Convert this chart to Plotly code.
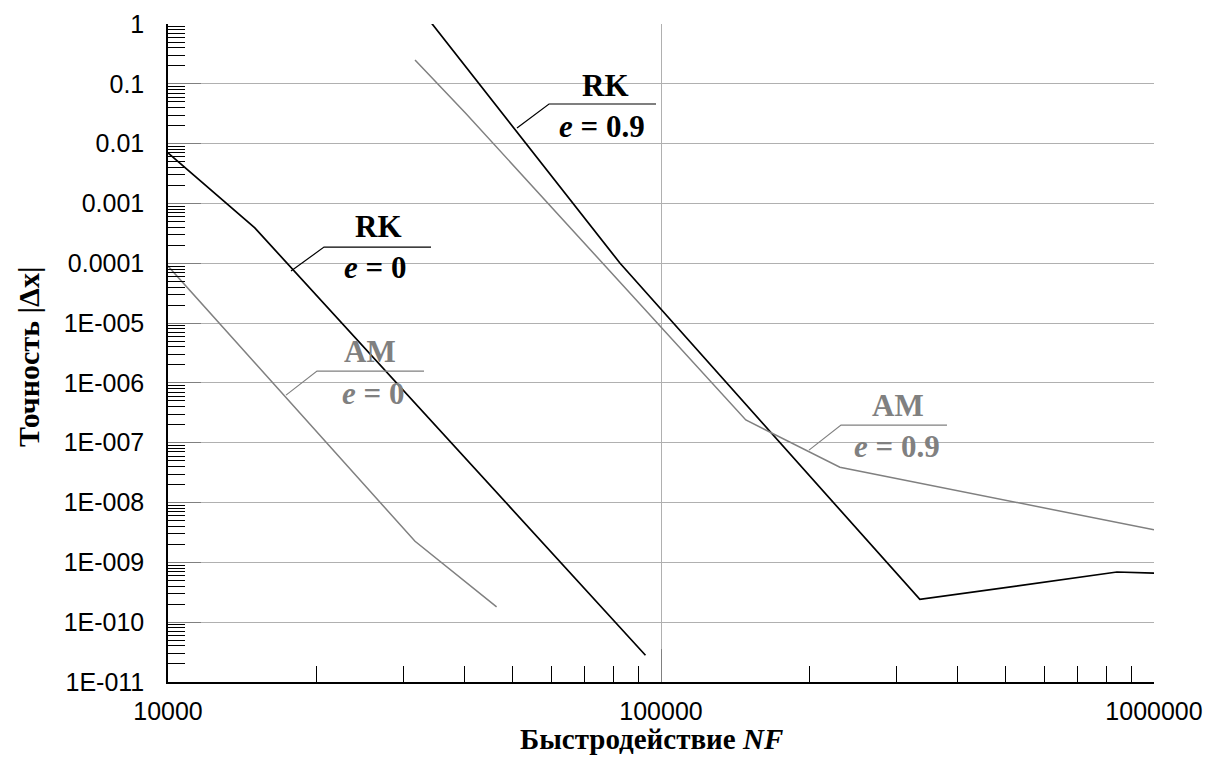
import plotly.graph_objects as go
import numpy as np

# ---------------- data ----------------
rk_e0_nf = [10000, 15000, 93000]
rk_e0_dx = [7.0e-3, 3.9e-4, 2.8e-11]

am_e0_nf = [10000, 31700, 46400]
am_e0_dx = [9.0e-5, 2.25e-9, 1.8e-10]

rk_e09_nf = [31600, 82600, 335000, 841000, 1000000]
rk_e09_dx = [2.4, 1.0e-4, 2.4e-10, 6.9e-10, 6.6e-10]

am_e09_nf = [31700, 40200, 148600, 230600, 1000000]
am_e09_dx = [0.25, 0.032, 2.4e-7, 3.9e-8, 3.5e-9]

x_tick_vals = [1e4, 1e5, 1e6]
x_tick_text = ["10000", "100000", "1000000"]
y_tick_vals = [1, 0.1, 0.01, 0.001, 1e-4, 1e-5, 1e-6, 1e-7, 1e-8, 1e-9, 1e-10, 1e-11]
y_tick_text = ["1", "0.1", "0.01", "0.001", "0.0001", "1E-005", "1E-006",
               "1E-007", "1E-008", "1E-009", "1E-010", "1E-011"]

BLACK = "#000000"
GRAY = "#808080"

# label call-outs: leader (log10 coords: curve point, elbow, end), title pos, sub pos
labels = [
    dict(top="RK", sub="0", color=BLACK,
         lead_x=[4.2495, 4.3164, 4.5335], lead_y=[-4.1304, -3.7291, -3.7291],
         top_xy=(4.4260, -3.3779), sub_xy=(4.4199, -4.0635)),
    dict(top="AM", sub="0", color=GRAY,
         lead_x=[4.2394, 4.3022, 4.5193], lead_y=[-6.2040, -5.8027, -5.8027],
         top_xy=(4.4097, -5.4682), sub_xy=(4.4158, -6.1706)),
    dict(top="RK", sub="0.9", color=BLACK,
         lead_x=[4.7079, 4.7728, 4.9899], lead_y=[-1.7391, -1.3378, -1.3378],
         top_xy=(4.8884, -1.0201), sub_xy=(4.8803, -1.7057)),
    dict(top="AM", sub="0.9", color=GRAY,
         lead_x=[5.3002, 5.3651, 5.5801], lead_y=[-7.1237, -6.7057, -6.7057],
         top_xy=(5.4807, -6.3712), sub_xy=(5.4787, -7.0569)),
]

fig = go.Figure()

series = [
    (rk_e0_nf, rk_e0_dx, BLACK, 1.7, "RK e=0"),
    (am_e0_nf, am_e0_dx, GRAY, 1.5, "AM e=0"),
    (rk_e09_nf, rk_e09_dx, BLACK, 1.7, "RK e=0.9"),
    (am_e09_nf, am_e09_dx, GRAY, 1.5, "AM e=0.9"),
]
for xs, ys, col, w, name in series:
    fig.add_trace(go.Scatter(x=xs, y=ys, mode="lines", name=name,
                             line=dict(color=col, width=w),
                             showlegend=False, hoverinfo="x+y"))

SERIF = "Liberation Serif, Times New Roman, serif"
SANS = "Liberation Sans, Arial, sans-serif"

annotations = []
for lb in labels:
    fig.add_trace(go.Scatter(x=[10 ** v for v in lb["lead_x"]],
                             y=[10 ** v for v in lb["lead_y"]],
                             mode="lines", line=dict(color=lb["color"], width=1.2),
                             showlegend=False, hoverinfo="skip"))
    annotations.append(dict(x=lb["top_xy"][0], y=lb["top_xy"][1], xref="x", yref="y",
                            text="<b>%s</b>" % lb["top"], showarrow=False,
                            xanchor="center", yanchor="middle",
                            font=dict(family=SERIF, size=31, color=lb["color"])))
    annotations.append(dict(x=lb["sub_xy"][0], y=lb["sub_xy"][1], xref="x", yref="y",
                            text="<b><i>e</i> = %s</b>" % lb["sub"], showarrow=False,
                            xanchor="center", yanchor="middle",
                            font=dict(family=SERIF, size=31, color=lb["color"])))

annotations.append(dict(x=0.49, y=-0.0866, xref="paper", yref="paper",
                        text="<b>Быстродействие <i>NF</i></b>", showarrow=False,
                        xanchor="center", yanchor="middle",
                        font=dict(family=SERIF, size=29, color=BLACK)))
annotations.append(dict(x=-0.142, y=0.4954, xref="paper", yref="paper",
                        text="<b>Точность |Δx|</b>", showarrow=False, textangle=-90,
                        xanchor="center", yanchor="middle",
                        font=dict(family=SERIF, size=30, color=BLACK)))

fig.update_layout(
    width=1215, height=758, autosize=False,
    margin=dict(l=160, r=69, t=16, b=84, pad=0),
    paper_bgcolor="white", plot_bgcolor="white",
    showlegend=False,
    annotations=annotations,
    xaxis=dict(type="log", range=[4, 6], tickmode="array", automargin=False,
               tickvals=x_tick_vals, ticktext=x_tick_text,
               ticks="inside", ticklen=33, tickwidth=1, tickcolor="#808080",
               showgrid=True, gridcolor="#b0b0b0", gridwidth=1,
               showline=True, linecolor=BLACK, linewidth=1.5,
               zeroline=False, ticklabelstandoff=6,
               tickfont=dict(family=SANS, size=25, color=BLACK),
               minor=dict(ticks="inside", ticklen=16, tickwidth=1, tickcolor=BLACK,
                          dtick="D1", showgrid=False)),
    yaxis=dict(type="log", range=[-11, 0], tickmode="array", automargin=False,
               tickvals=y_tick_vals, ticktext=y_tick_text,
               ticks="inside", ticklen=33, tickwidth=1, tickcolor="#808080",
               showgrid=True, gridcolor="#b0b0b0", gridwidth=1,
               showline=True, linecolor=BLACK, linewidth=1.5,
               zeroline=False, ticklabelstandoff=17,
               tickfont=dict(family=SANS, size=25, color=BLACK),
               minor=dict(ticks="inside", ticklen=17, tickwidth=1, tickcolor=BLACK,
                          dtick="D1", showgrid=False)),
)

fig.write_html("out.html")
